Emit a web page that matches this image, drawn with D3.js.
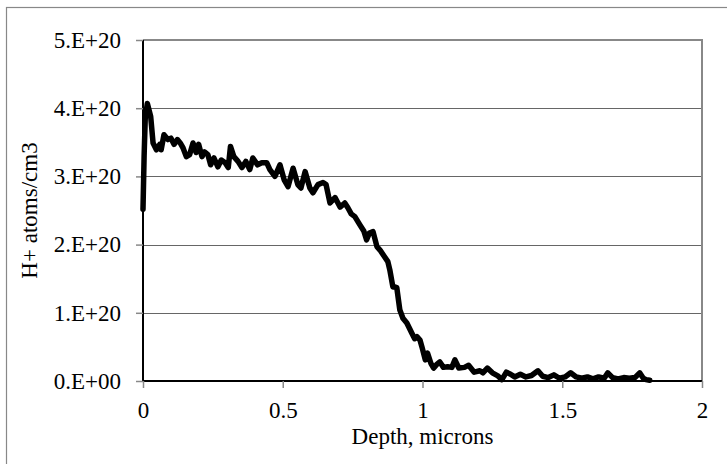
<!DOCTYPE html>
<html>
<head>
<meta charset="utf-8">
<script src="https://cdn.jsdelivr.net/npm/d3@7"></script>
<style>
  body { margin: 0; background: #fff; }
  svg { display: block; }
  text { font-family: "Liberation Serif", "Times New Roman", serif; fill: #000; }
</style>
</head>
<body>
<svg id="chart" width="727" height="464"></svg>
<script>
// Depth in microns
const depth = [
  0.000, 0.004, 0.008, 0.0155, 0.0275, 0.036, 0.048, 0.060, 0.065, 0.075,
  0.089, 0.100, 0.111, 0.123, 0.133, 0.143, 0.155, 0.167, 0.179, 0.190,
  0.199, 0.211, 0.220, 0.232, 0.242, 0.254, 0.268, 0.280, 0.294, 0.305,
  0.313, 0.325, 0.340, 0.354, 0.368, 0.382, 0.393, 0.410, 0.425, 0.443,
  0.454, 0.472, 0.490, 0.505, 0.519, 0.537, 0.554, 0.565, 0.580, 0.597,
  0.608, 0.626, 0.644, 0.655, 0.669, 0.687, 0.705, 0.722, 0.733, 0.745,
  0.758, 0.776, 0.790, 0.800, 0.810, 0.823, 0.837, 0.848, 0.866, 0.876,
  0.883, 0.894, 0.900, 0.908, 0.919, 0.930, 0.944, 0.962, 0.972, 0.980,
  0.991, 0.998, 1.010, 1.018, 1.030, 1.040, 1.050, 1.062, 1.075, 1.090,
  1.105, 1.116, 1.130, 1.150, 1.165, 1.185, 1.205, 1.216, 1.232, 1.250,
  1.268, 1.284, 1.300, 1.315, 1.330, 1.350, 1.370, 1.390, 1.413, 1.430,
  1.450, 1.470, 1.490, 1.510, 1.530, 1.550, 1.570, 1.590, 1.610, 1.630,
  1.650, 1.663, 1.680, 1.700, 1.720, 1.740, 1.760, 1.777, 1.790, 1.800,
  1.813
];
// H+ concentration, units of 1e20 atoms/cm3
const conc = [
  2.52, 3.30, 3.85, 4.07, 3.88, 3.49, 3.39, 3.47, 3.39, 3.61,
  3.54, 3.56, 3.47, 3.54, 3.49, 3.42, 3.29, 3.32, 3.49, 3.35,
  3.47, 3.29, 3.36, 3.32, 3.17, 3.27, 3.14, 3.24, 3.20, 3.13,
  3.44, 3.29, 3.22, 3.13, 3.22, 3.10, 3.27, 3.17, 3.20, 3.20,
  3.10, 3.00, 3.17, 2.95, 2.85, 3.12, 2.88, 2.83, 3.07, 2.83,
  2.76, 2.88, 2.91, 2.88, 2.61, 2.69, 2.55, 2.61, 2.54, 2.45,
  2.41, 2.29, 2.20, 2.07, 2.17, 2.19, 1.97, 1.92, 1.81, 1.75,
  1.63, 1.38, 1.38, 1.37, 1.04, 0.92, 0.85, 0.70, 0.62, 0.65,
  0.60, 0.50, 0.31, 0.41, 0.26, 0.19, 0.24, 0.28, 0.20, 0.21,
  0.20, 0.31, 0.19, 0.20, 0.23, 0.13, 0.15, 0.12, 0.19, 0.12,
  0.08, 0.02, 0.13, 0.10, 0.06, 0.10, 0.06, 0.08, 0.15, 0.07,
  0.05, 0.09, 0.04, 0.06, 0.12, 0.06, 0.04, 0.06, 0.03, 0.06,
  0.04, 0.12, 0.05, 0.03, 0.05, 0.04, 0.05, 0.12, 0.04, 0.02,
  0.01
].map(v => v * 1e20);

const xTicks = [0, 0.5, 1, 1.5, 2];
const xTickLabels = ["0", "0.5", "1", "1.5", "2"];
const yTicks = [0, 1e20, 2e20, 3e20, 4e20, 5e20];
const yTickLabels = ["0.E+00", "1.E+20", "2.E+20", "3.E+20", "4.E+20", "5.E+20"];
const xTitle = "Depth, microns";
const yTitle = "H+ atoms/cm3";

const svg = d3.select("#chart");
const L = 143, R = 702, T = 40, B = 381;

const x = d3.scaleLinear().domain([0, 2]).range([L, R]);
const y = d3.scaleLinear().domain([0, 5e20]).range([B, T]);

// outer chart border
svg.append("rect")
  .attr("x", 6.5).attr("y", 7.5).attr("width", 900).attr("height", 700)
  .attr("fill", "none").attr("stroke", "#888").attr("stroke-width", 1.2);

// gridlines
svg.append("g").selectAll("line").data(yTicks.slice(1, -1)).join("line")
  .attr("x1", L).attr("x2", R)
  .attr("y1", d => Math.round(y(d)) + 0.5).attr("y2", d => Math.round(y(d)) + 0.5)
  .attr("stroke", "#666").attr("stroke-width", 1);

// plot border top & right
svg.append("path")
  .attr("d", `M${L},${T} H${R} V${B}`)
  .attr("fill", "none").attr("stroke", "#888").attr("stroke-width", 2);

// axes
const xAxis = d3.axisBottom(x).tickValues(xTicks)
  .tickFormat((d, i) => xTickLabels[i]).tickSize(7).tickPadding(14);
const gx = svg.append("g").attr("transform", `translate(0,${B})`).call(xAxis);
gx.select(".domain").attr("stroke", "#000").attr("stroke-width", 2).attr("d", `M${L},0H${R}`);
gx.selectAll(".tick line").attr("stroke", "#888").attr("stroke-width", 1.5);
gx.selectAll(".tick text").attr("font-size", 23).attr("font-family", "Liberation Serif").attr("fill", "#000");

const yAxis = d3.axisLeft(y).tickValues(yTicks)
  .tickFormat((d, i) => yTickLabels[i]).tickSize(7).tickPadding(15);
const gy = svg.append("g").attr("transform", `translate(${L},0)`).call(yAxis);
gy.select(".domain").attr("stroke", "#000").attr("stroke-width", 2).attr("d", `M0,${T}V${B}`);
gy.selectAll(".tick line").attr("stroke", "#888").attr("stroke-width", 1.5);
gy.selectAll(".tick text").attr("font-size", 23).attr("font-family", "Liberation Serif").attr("fill", "#000");

// data line
const line = d3.line().x((d, i) => x(depth[i])).y(d => y(d));
svg.append("path")
  .datum(conc)
  .attr("d", line)
  .attr("fill", "none").attr("stroke", "#000")
  .attr("stroke-width", 5.5).attr("stroke-linejoin", "round").attr("stroke-linecap", "round");

// titles
svg.append("text")
  .attr("x", (L + R) / 2).attr("y", 444)
  .attr("text-anchor", "middle").attr("font-size", 23)
  .text(xTitle);

svg.append("text")
  .attr("transform", `translate(37,${(T + B) / 2}) rotate(-90)`)
  .attr("text-anchor", "middle").attr("font-size", 23)
  .text(yTitle);
</script>
</body>
</html>
